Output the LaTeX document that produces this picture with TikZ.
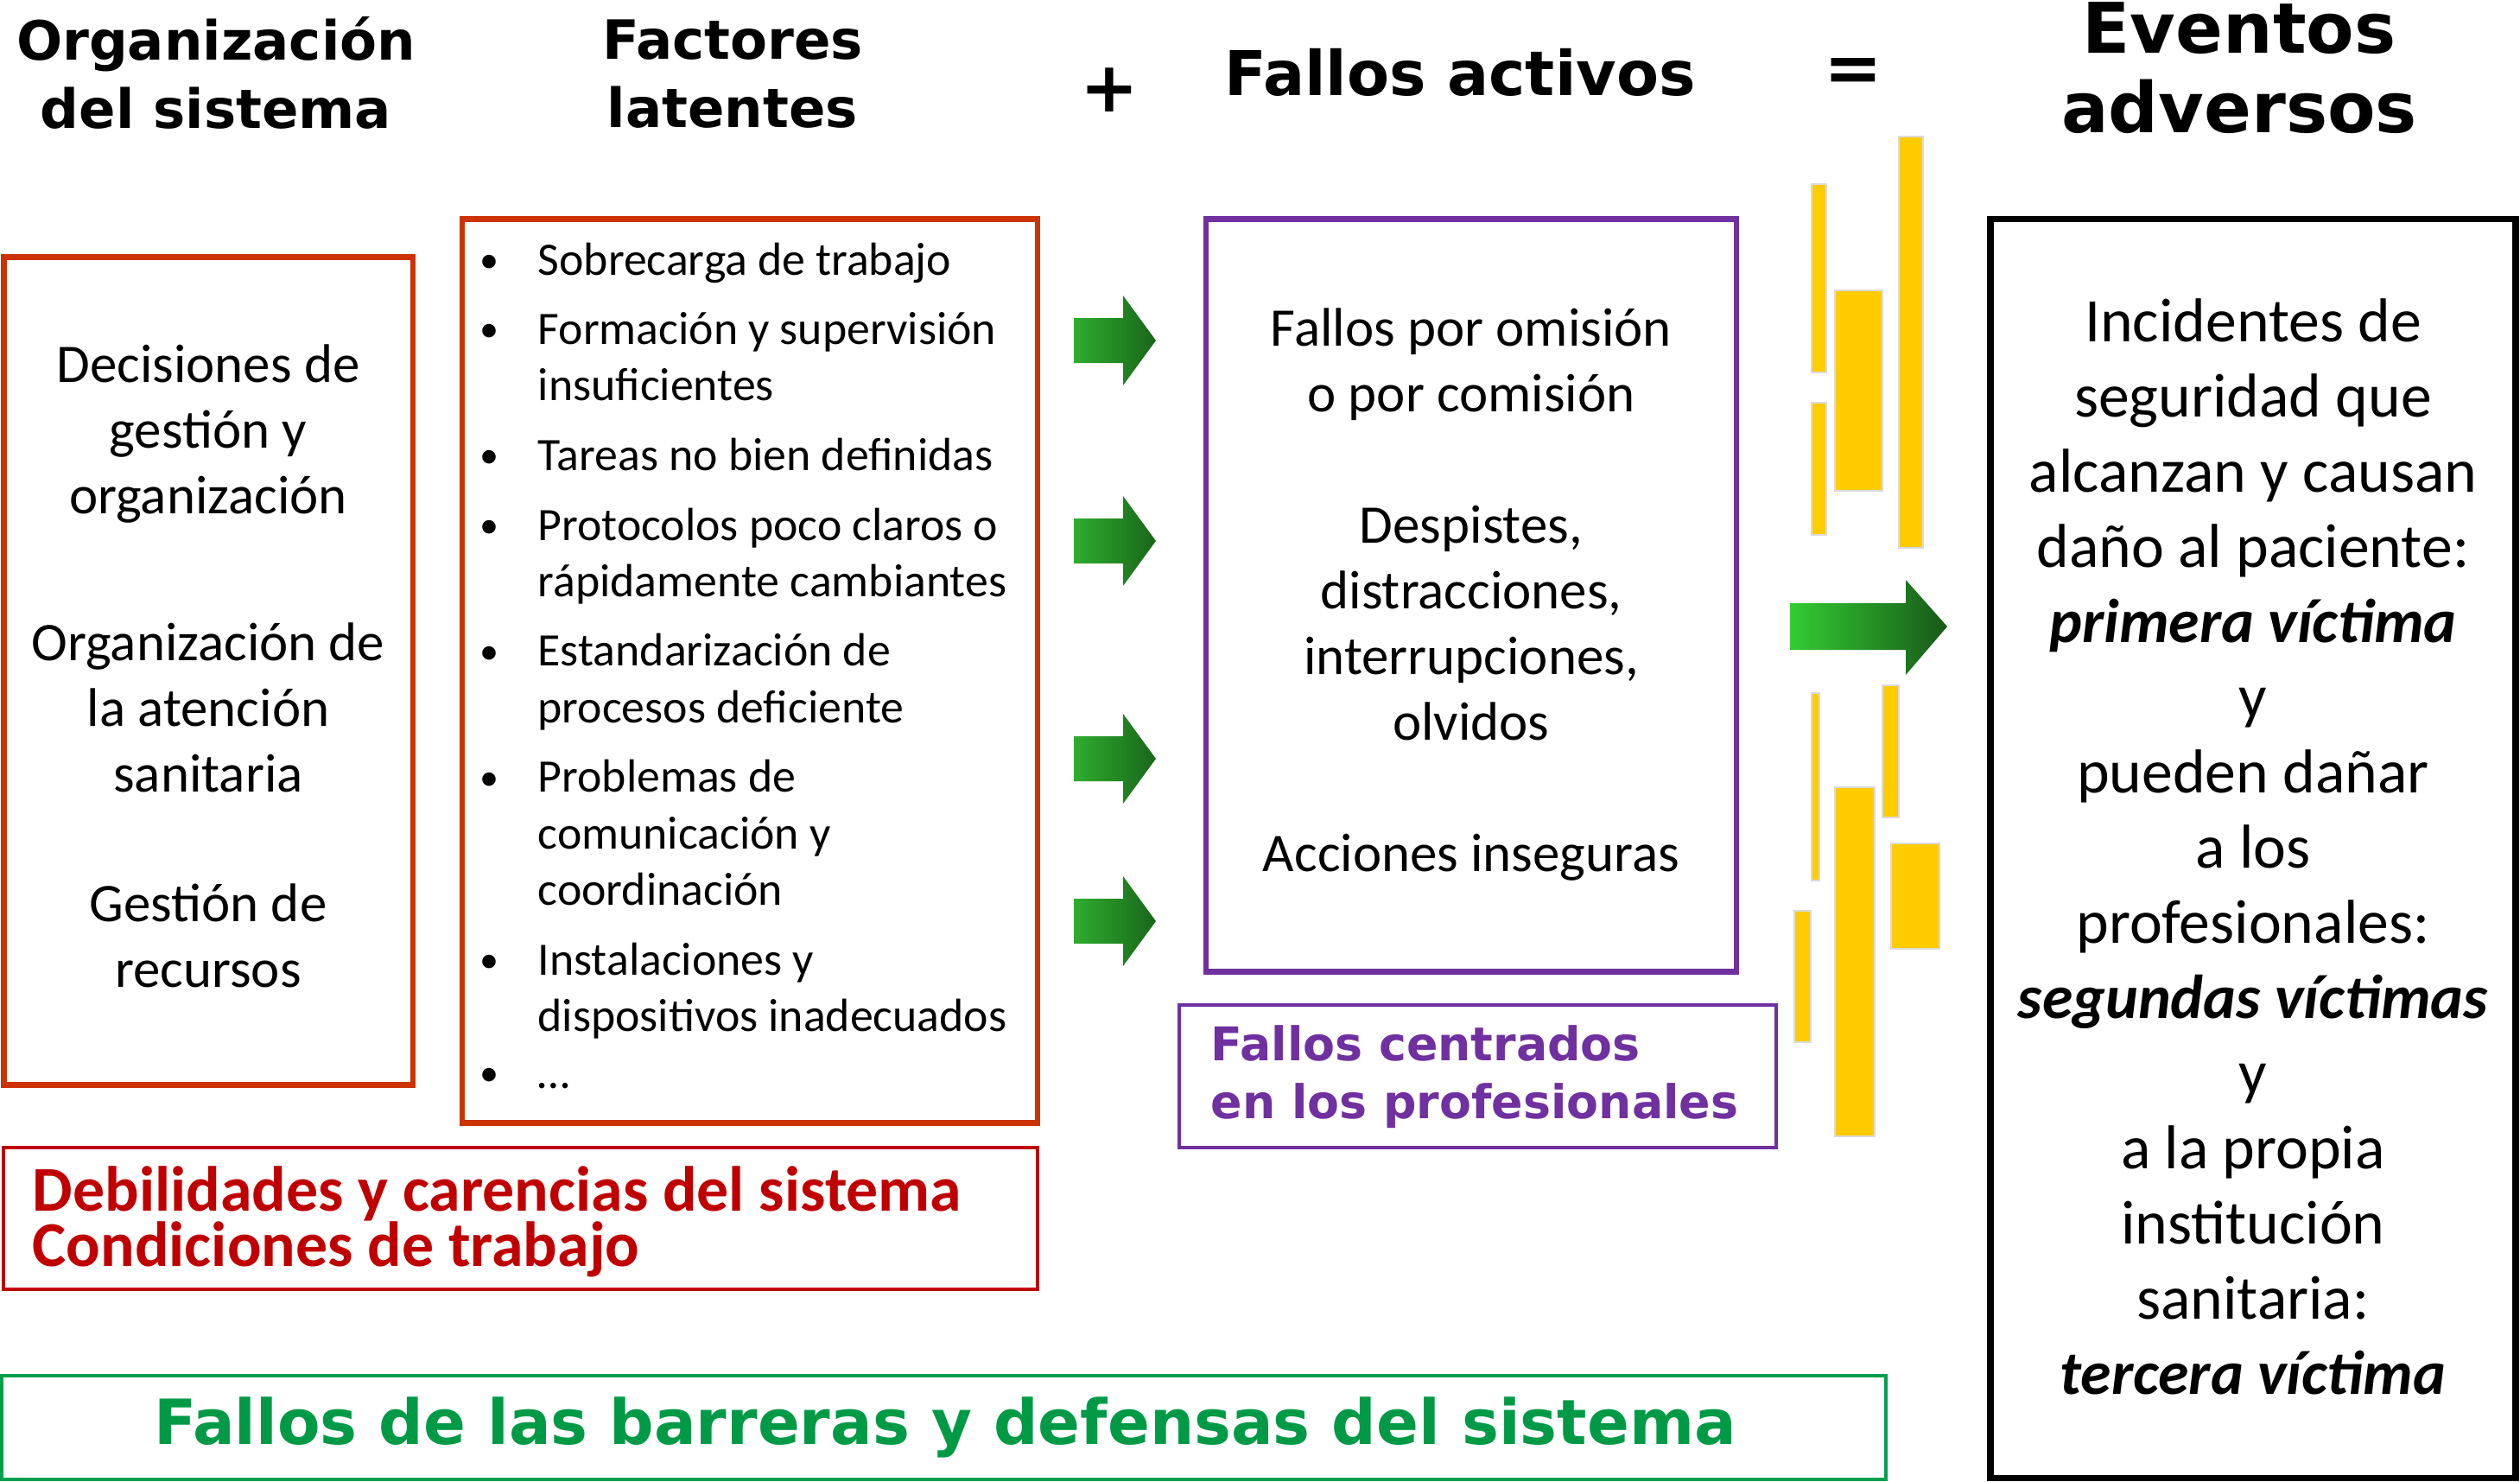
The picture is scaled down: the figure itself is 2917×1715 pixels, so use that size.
\documentclass[tikz,border=0pt]{standalone}
\usepackage{fontspec}
\setmainfont{Carlito}
\newfontfamily\hfont{DejaVu Sans}
\definecolor{ored}{HTML}{CC3300}
\definecolor{dred}{HTML}{C00000}
\definecolor{purp}{HTML}{7030A0}
\definecolor{grnb}{HTML}{00A04E}
\definecolor{grnt}{HTML}{009A47}
\definecolor{ylw}{HTML}{FFCC00}
\definecolor{ga}{HTML}{2EAD2E}
\definecolor{gb}{HTML}{1A661A}
\definecolor{gc}{HTML}{33CC33}
\definecolor{gd}{HTML}{185818}
\newcommand{\lbul}{\llap{\raisebox{0.1ex}{\scalebox{0.82}{\textbullet}}\hspace{0.45cm}}}
\tikzset{
  boxbase/.style={rectangle, inner sep=0pt, outer sep=0pt},
  obox/.style={boxbase, draw=ored, line width=0.065cm},
  rbox/.style={boxbase, draw=dred, line width=0.04cm},
  pbox/.style={boxbase, draw=purp, line width=0.065cm},
  psbox/.style={boxbase, draw=purp, line width=0.035cm},
  gbox/.style={boxbase, draw=grnb, line width=0.04cm},
  kbox/.style={boxbase, draw=black, line width=0.075cm},
  head/.style={inner sep=0pt, align=center, font=\hfont\bfseries\fontsize{17.8}{22.5}\selectfont},
  body/.style={inner sep=0pt, align=center, font=\fontsize{17.9}{21.6}\selectfont},
  bar/.style={fill=ylw, draw=black!14, line width=0.6pt},
  sarrow/.pic={\shade[left color=ga, right color=gb] (0,-26) -- (57,-26) -- (57,-52) -- (95,0) -- (57,52) -- (57,26) -- (0,26) -- cycle;}
}
\begin{document}
\begin{tikzpicture}[x=0.01cm, y=-0.01cm]
\useasboundingbox[fill=white] (0,0) rectangle (2917,1715);

% headers
\node[head] (h1) at (250,84) {Organización\\del sistema};
\node[head] (h2) at (848,86) {Factores\\latentes};
\node[head, font=\hfont\bfseries\fontsize{23}{26}\selectfont] (hplus) at (1284,104) {+};
\node[head, font=\hfont\bfseries\fontsize{20.3}{24}\selectfont] (h3) at (1690,84) {Fallos activos};
\node[head, font=\hfont\bfseries\fontsize{23}{26}\selectfont] (heq) at (2145,87) {=};
\node[head, font=\hfont\bfseries\fontsize{23}{26.2}\selectfont] (h4) at (2592,79) {Eventos\\adversos};

% boxes
\node[obox, minimum width=4.735cm, minimum height=9.57cm] (bl) at (241.25,776.5) {};
\node[obox, minimum width=6.66cm, minimum height=10.45cm] (bf) at (868,776.5) {};
\node[rbox, minimum width=11.965cm, minimum height=1.64cm] (bd) at (602.75,1410) {};
\node[pbox, minimum width=6.14cm, minimum height=8.70cm] (bp) at (1703,689) {};
\node[psbox, minimum width=6.91cm, minimum height=1.65cm] (bps) at (1710.5,1245.5) {};
\node[gbox, minimum width=21.79cm, minimum height=1.20cm] (bg) at (1092.5,1652) {};
\node[kbox, minimum width=6.08cm, minimum height=14.56cm] (be) at (2608,982) {};

% left box text
\node[body] (t1) at (241,502) {Decisiones de\\gestión y\\organización};
\node[body] (t2) at (241,819) {Organización de\\la atención\\sanitaria};
\node[body] (t3) at (241,1083) {Gestión de\\recursos};

% list
\node[anchor=base west, inner sep=0pt, font=\fontsize{15.3}{18.6}\selectfont] (lst) at (622,318) {\begin{tabular}[t]{@{}l@{}}
\lbul Sobrecarga de trabajo\\[4.3pt]
\lbul Formación y supervisión\\
insuficientes\\[4.3pt]
\lbul Tareas no bien definidas\\[4.3pt]
\lbul Protocolos poco claros o\\
rápidamente cambiantes\\[4.3pt]
\lbul Estandarización de\\
procesos deficiente\\[4.3pt]
\lbul Problemas de\\
comunicación y\\
coordinación\\[4.3pt]
\lbul Instalaciones y\\
dispositivos inadecuados\\
\lbul …
\end{tabular}};

% fallos activos text
\node[body] (ta) at (1703,688) {Fallos por omisión\\o por comisión\\[21.6pt]Despistes,\\distracciones,\\interrupciones,\\olvidos\\[21.6pt]Acciones inseguras};

% eventos text
\node[body, font=\fontsize{20.4}{24.75}\selectfont] (te) at (2608,980) {Incidentes de\\seguridad que\\alcanzan y causan\\daño al paciente:\\\textbf{\textit{primera víctima}}\\y\\pueden dañar\\a los\\profesionales:\\\textbf{\textit{segundas víctimas}}\\y\\a la propia\\institución\\sanitaria:\\\textbf{\textit{tercera víctima}}};

% debilidades
\node[anchor=west, inner sep=0pt, align=left, text=dred, font=\bfseries\fontsize{21}{18.2}\selectfont] (td) at (37,1414) {Debilidades y carencias del sistema\\Condiciones de trabajo};

% fallos centrados
\node[anchor=west, inner sep=0pt, align=left, text=purp, font=\hfont\bfseries\fontsize{15.3}{19}\selectfont] (tp) at (1401,1246) {Fallos centrados\\en los profesionales};

% barreras
\node[inner sep=0pt, text=grnt, font=\hfont\bfseries\fontsize{20.5}{24}\selectfont] (tg) at (1094,1652) {Fallos de las barreras y defensas del sistema};

% small arrows
\pic at (1243,394) {sarrow};
\pic at (1243,626) {sarrow};
\pic at (1243,878) {sarrow};
\pic at (1243,1066) {sarrow};

% big arrow
\shade[left color=gc, right color=gd] (2072,698) -- (2206,698) -- (2206,671) -- (2254,725) -- (2206,781) -- (2206,752) -- (2072,752) -- cycle;

% yellow bars
\draw[bar] (2097,213) rectangle (2114,431);
\draw[bar] (2097,466) rectangle (2114,619);
\draw[bar] (2124,336) rectangle (2179,568);
\draw[bar] (2198,158) rectangle (2226,634);
\draw[bar] (2097,802) rectangle (2106,1019);
\draw[bar] (2179,793) rectangle (2198,946);
\draw[bar] (2124,911) rectangle (2170,1315);
\draw[bar] (2189,976) rectangle (2245,1098);
\draw[bar] (2077,1054) rectangle (2096,1206);
\end{tikzpicture}
\end{document}
